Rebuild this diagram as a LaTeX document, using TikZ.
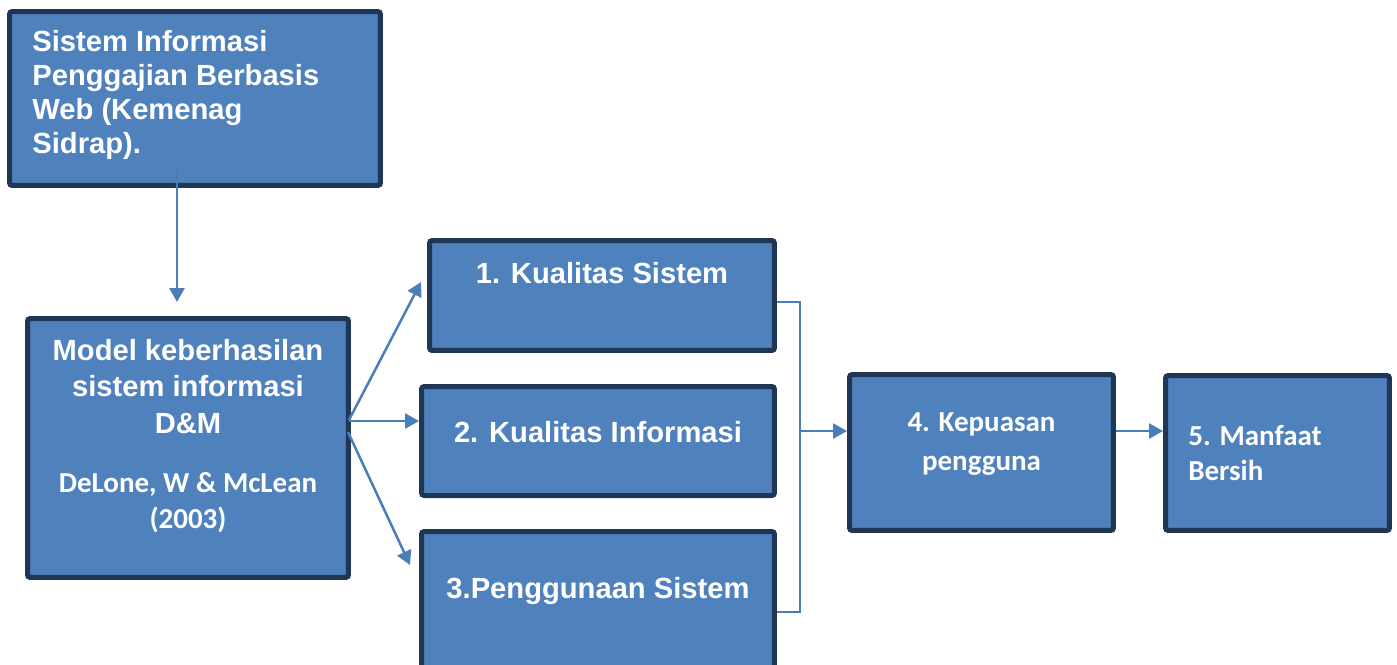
\documentclass[tikz,border=0pt]{standalone}
\usepackage{fontspec}
\setmainfont{Liberation Sans}
\newfontfamily\calib{Carlito}
\usetikzlibrary{arrows.meta,positioning}
\definecolor{boxfill}{HTML}{4F81BD}
\definecolor{boxline}{HTML}{1F3654}
\definecolor{linkcol}{HTML}{4A7EBB}
\begin{document}
\begin{tikzpicture}[x=0.02cm,y=-0.02cm,
  box/.style={draw=boxline,fill=boxfill,line width=0.1cm,rounded corners=1.5pt,inner sep=0pt},
  lbl/.style={text=white,font=\bfseries\fontsize{16.6}{19.3}\selectfont,inner sep=0pt},
  clbl/.style={lbl,font=\calib\bfseries\fontsize{16.5}{20.4}\selectfont},
  conn/.style={draw=linkcol,line width=0.05cm},
  arr/.style={conn,-{Triangle[length=0.28cm,width=0.3cm]}}]
\useasboundingbox (0,0) rectangle (1397,664);
\node[box,minimum width=7.42cm,minimum height=3.48cm] (sia) at (195,98.5) {};
\node[box,minimum width=6.42cm,minimum height=5.18cm] (mdl) at (188,448) {};
\node[box,minimum width=6.9cm,minimum height=2.2cm] (kual) at (602,295.5) {};
\node[box,minimum width=7.06cm,minimum height=2.18cm] (sinf) at (598,441) {};
\node[box,minimum width=7.06cm,minimum height=3.32cm] (guna) at (598,614.5) {};
\node[box,minimum width=5.28cm,minimum height=3.12cm] (puas) at (981.5,452.5) {};
\node[box,minimum width=4.48cm,minimum height=3.1cm] (mnf) at (1277.5,453) {};
\node[lbl,anchor=base west,align=left] (siat) at ([shift={(25,144)}]sia.north west) {Sistem Informasi\\Penggajian Berbasis\\Web (Kemenag\\Sidrap).};
\node[lbl,anchor=base,align=center,font=\bfseries\fontsize{16.6}{20.7}\selectfont] (mdlt) at ([shift={(0,117)}]mdl.north) {Model keberhasilan\\sistem informasi\\D\&M};
\node[clbl,anchor=base,align=center] (mdlr) at ([shift={(0,212)}]mdl.north) {DeLone, W \& McLean\\(2003)};
\node[lbl,anchor=base] (kualt) at ([shift={(0,45)}]kual.north) {1. Kualitas Sistem};
\node[lbl,anchor=base] (sinft) at ([shift={(0,58)}]sinf.north) {2. Kualitas Informasi};
\node[lbl,anchor=base] (gunat) at ([shift={(0,69)}]guna.north) {3.Penggunaan Sistem};
\node[clbl,anchor=base,align=center,font=\calib\bfseries\fontsize{16.5}{22.1}\selectfont] (puast) at ([shift={(0,98)}]puas.north) {4. Kepuasan\\pengguna};
\node[clbl,anchor=base west,align=left,font=\calib\bfseries\fontsize{16.5}{19.8}\selectfont] (mnft) at ([shift={(25,107)}]mnf.north west) {5. Manfaat\\Bersih};
\draw[arr] ([shift={(-18,-21)}]sia.south) -- ([shift={(-11,-14)}]mdl.north);
\draw[arr] ([shift={(-2,-28)}]mdl.east) -- ([shift={(-6,-13.5)}]kual.west);
\draw[arr] ([shift={(-2,-27)}]mdl.east) -- ([shift={(0,-20)}]sinf.west);
\draw[arr] ([shift={(-3,-16)}]mdl.east) -- ([shift={(-9,-49.5)}]guna.west);
\coordinate (jn) at (800,431);
\draw[conn] ([shift={(0,6.5)}]kual.east) -| (jn) |- ([shift={(0,-2.5)}]guna.east);
\draw[arr] (jn) -- (jn -| puas.west);
\draw[arr] ([shift={(0,-21.5)}]puas.east) -- ([shift={(0,-22)}]mnf.west);
\end{tikzpicture}
\end{document}
